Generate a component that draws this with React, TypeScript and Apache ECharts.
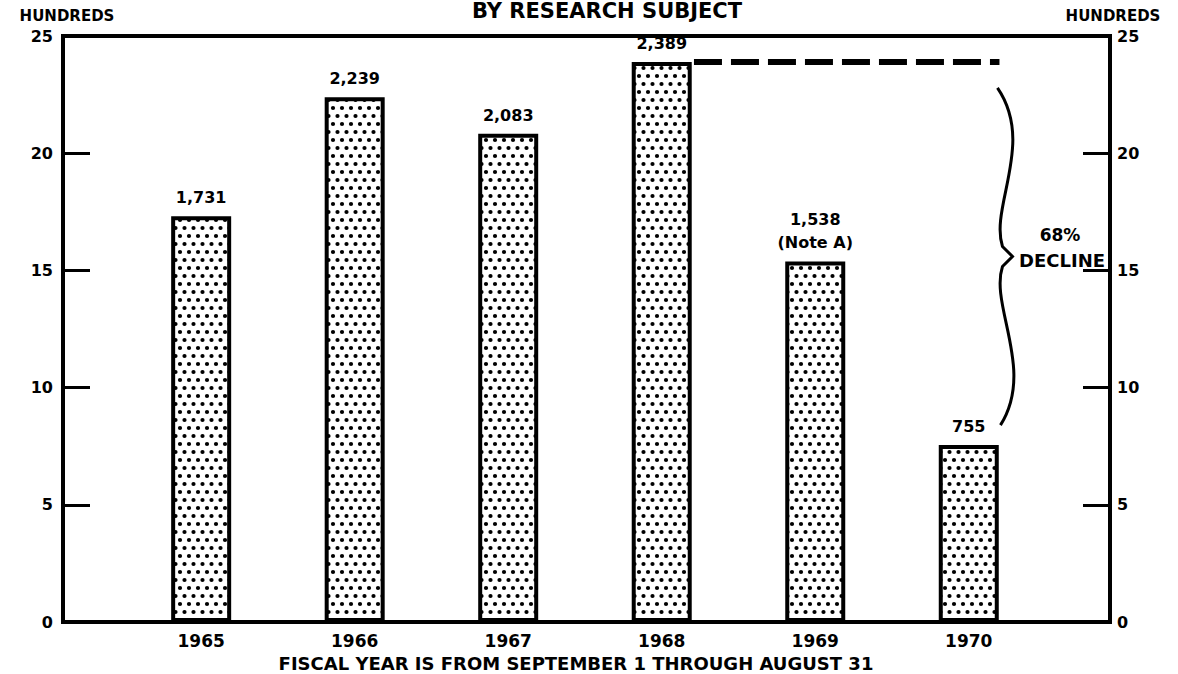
import React, { useEffect, useRef } from "react";
import * as echarts from "echarts";

// ---- data ----
const years = [1965, 1966, 1967, 1968, 1969, 1970];
const researchSubjects = [1731, 2239, 2083, 2389, 1538, 755];
const labelNotes = ["", "", "", "", "(Note A)", ""];
const yTicks = [0, 5, 10, 15, 20, 25]; // hundreds
const titleText = "BY RESEARCH SUBJECT";
const unitText = "HUNDREDS";
const declineLabel = ["68%", "DECLINE"];
const footText = "FISCAL YEAR IS FROM SEPTEMBER 1 THROUGH AUGUST 31";

const FONT = "'DejaVu Sans', 'Liberation Sans', Arial, sans-serif";

function makeDots() {
  const c = document.createElement("canvas");
  c.width = 18;
  c.height = 16;
  const ctx = c.getContext("2d")!;
  ctx.fillStyle = "#ffffff";
  ctx.fillRect(0, 0, 18, 16);
  ctx.fillStyle = "#000000";
  const pts = [
    [4.5, 4],
    [13.5, 4],
    [0, 12],
    [9, 12],
    [18, 12],
  ];
  pts.forEach(([x, y]) => {
    ctx.beginPath();
    ctx.arc(x, y, 2.1, 0, Math.PI * 2);
    ctx.fill();
  });
  return { image: c, repeat: "repeat" } as any;
}

export default function App() {
  const ref = useRef<HTMLDivElement>(null);

  useEffect(() => {
    document.body.style.margin = "0";
    if (!ref.current) return;
    const chart = echarts.init(ref.current, null, { renderer: "svg" });

    const vals = researchSubjects.map((v) => v / 100);
    const v1968 = vals[years.indexOf(1968)];
    const v1970 = vals[years.indexOf(1970)];

    const axisLabelStyle = {
      color: "#000",
      fontFamily: FONT,
      fontWeight: "bold" as const,
      fontSize: 16,
    };

    const yAxisCommon = {
      type: "value" as const,
      min: yTicks[0],
      max: yTicks[yTicks.length - 1],
      interval: yTicks[1] - yTicks[0],
      splitLine: { show: false },
      axisLine: { show: true, lineStyle: { color: "#000", width: 4 } },
      axisTick: {
        show: true,
        inside: true,
        length: 27,
        lineStyle: { color: "#000", width: 3 },
      },
    };

    const option: any = {
      animation: false,
      backgroundColor: "#ffffff",
      grid: {
        left: 63,
        right: 68,
        top: 36,
        bottom: 52,
        show: true,
        borderColor: "#000",
        borderWidth: 4,
        backgroundColor: "transparent",
      },
      xAxis: {
        type: "value",
        min: 1964.1,
        max: 1970.92,
        splitLine: { show: false },
        axisLine: { show: true, onZero: false, lineStyle: { color: "#000", width: 4 } },
        axisTick: { show: false },
        axisLabel: {
          ...axisLabelStyle,
          fontSize: 17,
          margin: 10,
          customValues: years,
          formatter: (v: number) => String(v),
        },
      },
      yAxis: [
        {
          ...yAxisCommon,
          position: "left",
          axisLabel: { ...axisLabelStyle, margin: 10 },
        },
        {
          ...yAxisCommon,
          position: "right",
          axisLabel: { ...axisLabelStyle, margin: 7 },
        },
      ],
      series: [
        {
          type: "bar",
          xAxisIndex: 0,
          yAxisIndex: 0,
          barWidth: 60,
          data: years.map((y, i) => [y, vals[i]]),
          itemStyle: {
            color: makeDots(),
            borderColor: "#000",
            borderWidth: 4,
          },
          label: {
            show: true,
            position: "top",
            distance: 7,
            color: "#000",
            fontFamily: FONT,
            fontWeight: "bold",
            fontSize: 16,
            lineHeight: 23,
            formatter: (p: any) => {
              const n = researchSubjects[p.dataIndex].toLocaleString("en-US");
              const note = labelNotes[p.dataIndex];
              return note ? n + "\n" + note : n;
            },
          },
          z: 3,
        },
        {
          type: "line",
          xAxisIndex: 0,
          yAxisIndex: 0,
          symbol: "none",
          data: [
            [1968.21, v1968],
            [1970.2, v1968],
          ],
          lineStyle: { color: "#000", width: 6, type: [28, 9] },
          z: 4,
        },
        {
          type: "custom",
          xAxisIndex: 0,
          yAxisIndex: 0,
          data: [[1970.2, v1968 - 1.1, v1970 + 0.85]],
          renderItem: (params: any, api: any) => {
            const top = api.coord([api.value(0), api.value(1)]);
            const bot = api.coord([api.value(0), api.value(2)]);
            const x = top[0];
            const a = top[1];
            const b = bot[1];
            const m = (a + b) / 2;
            const L1 = m - 10 - a;
            const L2 = b - (m + 10);
            const d =
              `M${x - 2},${a} ` +
              `C${x + 36},${a + 0.35 * L1} ${x - 10},${a + 0.75 * L1} ${x + 3},${m - 10} ` +
              `L${x + 13},${m} L${x + 3},${m + 10} ` +
              `C${x - 10},${m + 10 + 0.25 * L2} ${x + 36},${m + 10 + 0.65 * L2} ${x + 1},${b}`;
            return {
              type: "path",
              shape: { pathData: d },
              style: { fill: "none", stroke: "#000", lineWidth: 3 },
            };
          },
          z: 4,
        },
      ],
      graphic: [
        {
          type: "text",
          x: 607,
          y: 11,
          style: {
            text: titleText,
            fill: "#000",
            font: `bold 21px ${FONT}`,
            align: "center",
            verticalAlign: "middle",
          },
        },
        {
          type: "text",
          x: 67,
          y: 16,
          style: {
            text: unitText,
            fill: "#000",
            font: `bold 15px ${FONT}`,
            align: "center",
            verticalAlign: "middle",
          },
        },
        {
          type: "text",
          x: 1113,
          y: 16,
          style: {
            text: unitText,
            fill: "#000",
            font: `bold 15px ${FONT}`,
            align: "center",
            verticalAlign: "middle",
          },
        },
        {
          type: "text",
          x: 1060,
          y: 235,
          style: {
            text: declineLabel[0],
            fill: "#000",
            font: `bold 17px ${FONT}`,
            align: "center",
            verticalAlign: "middle",
          },
        },
        {
          type: "text",
          x: 1062,
          y: 260,
          style: {
            text: declineLabel[1],
            fill: "#000",
            font: `bold 18px ${FONT}`,
            align: "center",
            verticalAlign: "middle",
          },
        },
        {
          type: "text",
          x: 576,
          y: 663,
          style: {
            text: footText,
            fill: "#000",
            font: `bold 18px ${FONT}`,
            align: "center",
            verticalAlign: "middle",
          },
        },
      ],
    };

    chart.setOption(option);
    return () => {
      chart.dispose();
    };
  }, []);

  return <div ref={ref} style={{ width: 1178, height: 674 }} />;
}
